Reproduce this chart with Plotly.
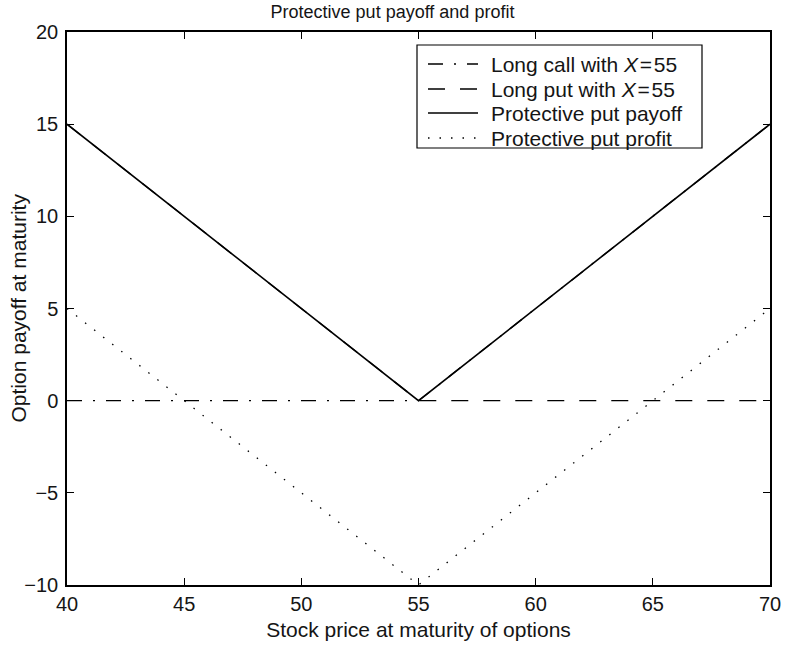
import plotly.graph_objects as go

stock_price = [40, 55, 70]
long_call = [0, 0, 15]
long_put = [15, 0, 0]
payoff = [15, 0, 15]
profit = [5, -10, 5]

x_ticks = [40, 45, 50, 55, 60, 65, 70]
y_ticks = [-10, -5, 0, 5, 10, 15, 20]

legend_names = ["Long call with <i>X</i>\u200a=\u200a55",
                "Long put with <i>X</i>\u200a=\u200a55",
                "Protective put payoff",
                "Protective put profit"]

font_family = "Liberation Sans, Arial, Helvetica, sans-serif"
TXT = "#151515"
W, H = 785, 648
ML, MR, MT, MB = 67, 15, 32, 63
PW, PH = W - ML - MR, H - MT - MB

styles = [dict(color="black", width=1.3, dash="15px,11px,2px,11px"),
          dict(color="black", width=1.3, dash="17px,15px"),
          dict(color="black", width=1.6),
          dict(color="black", width=1.3, dash="1.5px,10px")]

series = [long_call, long_put, payoff, profit]

fig = go.Figure()
for name, ys, st in zip(legend_names, series, styles):
    fig.add_trace(go.Scatter(x=stock_price, y=ys, mode="lines", name=name,
                             line=st, showlegend=False))


def px_x(px):
    return (px - ML) / PW


def px_y(py):
    return (H - MB - py) / PH


# manual legend (box, samples, labels)
shapes = [dict(type="rect", xref="paper", yref="paper",
               x0=px_x(417), x1=px_x(702), y0=px_y(148), y1=px_y(45),
               line=dict(color="black", width=1.2), fillcolor="white", layer="above")]
annotations = []
row_y = [64, 89, 113, 138]
for name, st, ry in zip(legend_names, styles, row_y):
    shapes.append(dict(type="line", xref="paper", yref="paper",
                       x0=px_x(428), x1=px_x(478), y0=px_y(ry), y1=px_y(ry),
                       line=st, layer="above"))
    annotations.append(dict(xref="paper", yref="paper", x=px_x(489), y=px_y(ry),
                            xanchor="left", yanchor="middle", text=name, showarrow=False,
                            font=dict(family=font_family, size=21, color=TXT)))

# y-axis title as rotated annotation
annotations.append(dict(xref="paper", yref="paper", x=px_x(18), y=0.5,
                        xanchor="center", yanchor="middle", textangle=-90,
                        text="Option payoff at maturity", showarrow=False,
                        font=dict(family=font_family, size=21, color=TXT)))

axis_common = dict(showline=True, linecolor="black", linewidth=1.5, mirror="ticks",
                   ticks="inside", ticklen=7, tickwidth=1, tickcolor="black",
                   showgrid=False, zeroline=False, automargin=False,
                   tickfont=dict(family=font_family, size=20, color=TXT))

fig.update_layout(
    width=W, height=H,
    margin=dict(l=ML, r=MR, t=MT, b=MB),
    paper_bgcolor="white", plot_bgcolor="white",
    title=dict(text="Protective put payoff and profit", x=0.5, xanchor="center",
               y=1 - 12 / H, yanchor="middle",
               font=dict(family=font_family, size=18, color=TXT)),
    xaxis=dict(range=[40, 70], tickvals=x_ticks,
               title=dict(text="Stock price at maturity of options", standoff=9,
                          font=dict(family=font_family, size=21, color=TXT)),
               **axis_common),
    yaxis=dict(range=[-10, 20], tickvals=y_ticks, ticklabelstandoff=3,
               **axis_common),
    shapes=shapes,
    annotations=annotations,
    showlegend=False,
)

fig.write_html("out.html", config={"displayModeBar": False},
               post_script="document.body.style.margin='0';")
